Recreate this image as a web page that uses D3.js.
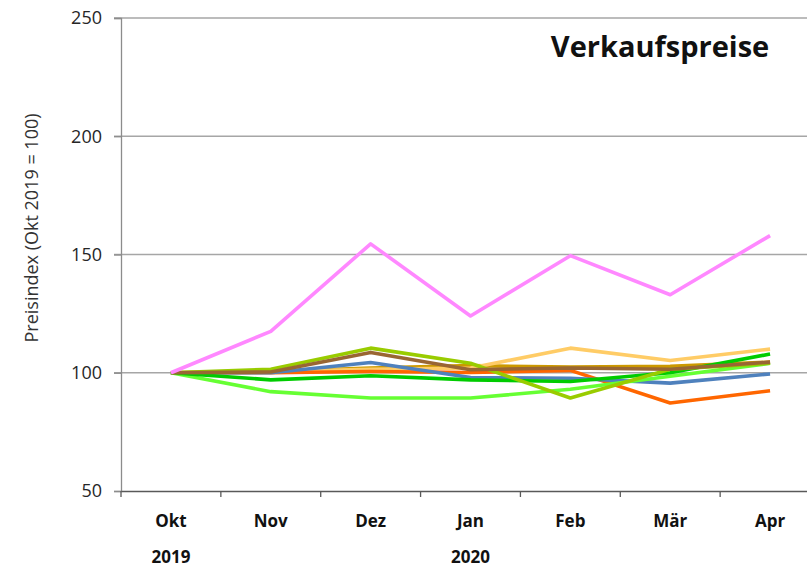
<!DOCTYPE html>
<html>
<head>
<meta charset="utf-8">
<script src="https://cdn.jsdelivr.net/npm/d3@7"></script>
<style>
  body { margin: 0; background: #fff; overflow: hidden; }
  text { font-family: "Open Sans", sans-serif; }
</style>
</head>
<body>
<div class="chart"></div>
<script>
// months shown on the x axis
const months = ['Okt', 'Nov', 'Dez', 'Jan', 'Feb', 'Mär', 'Apr'];
const years = ['2019', '', '', '2020', '', '', ''];
const yTicks = [50, 100, 150, 200, 250];

// price index per series (Okt 2019 = 100)
const pink = [100, 117.5, 154.5, 124, 149.5, 133, 158];
const olive = [100, 101.5, 110.4, 104, 89.3, 101.5, 104];
const brown = [100, 100.3, 108.6, 101.3, 102, 101.5, 104.5];
const golden = [100, 100.5, 102, 103, 102.4, 102.7, 104.5];
const lightOrange = [100, 100.5, 101.5, 102, 110.4, 105.2, 110];
const orange = [100, 100, 100.5, 100.1, 101, 87.2, 92.4];
const blue = [100, 100, 104.3, 98, 97.7, 95.6, 99.5];
const darkGreen = [100, 97, 98.7, 97, 96.3, 100, 107.9];
const lightGreen = [100, 92, 89.3, 89.3, 93, 98.5, 104];

const series = [
  {values: golden, color: '#cc9900'},
  {values: lightOrange, color: '#ffcc66'},
  {values: orange, color: '#ff6600'},
  {values: blue, color: '#4f81bd'},
  {values: lightGreen, color: '#66ff33'},
  {values: darkGreen, color: '#00cc00'},
  {values: olive, color: '#99cc00'},
  {values: brown, color: '#996633'},
  {values: pink, color: '#ff88ff'}
];

const W = 807, H = 569;
const margin = {left: 121, top: 18, bottom: 491, right: 820};

const svg = d3.select('.chart').append('svg')
  .attr('width', W)
  .attr('height', H);

const x = d3.scaleBand()
  .domain(months)
  .range([margin.left, margin.right]);

const y = d3.scaleLinear()
  .domain([50, 250])
  .range([margin.bottom, margin.top]);

// horizontal gridlines
svg.append('g')
  .selectAll('line')
  .data(yTicks.filter(d => d > 50))
  .enter().append('line')
    .attr('x1', margin.left - 7)
    .attr('x2', W)
    .attr('y1', d => y(d))
    .attr('y2', d => y(d))
    .attr('stroke', '#a6a6a6')
    .attr('stroke-width', 1.3);

// y axis
const yAxis = svg.append('g')
  .attr('transform', `translate(${margin.left},0)`)
  .call(d3.axisLeft(y).tickValues(yTicks).tickSize(7).tickPadding(12));
yAxis.select('.domain').attr('stroke', '#8c8c8c').attr('stroke-width', 1.3);
yAxis.selectAll('.tick line').attr('stroke', '#8c8c8c').attr('stroke-width', 1.3);
yAxis.selectAll('.tick text')
  .attr('fill', '#262626')
  .style('font-size', '18px');

// x axis
const xAxis = svg.append('g')
  .attr('transform', `translate(0,${margin.bottom})`)
  .call(d3.axisBottom(x).tickSize(0).tickPadding(24));
xAxis.select('.domain').attr('stroke', '#595959').attr('stroke-width', 1.6);
xAxis.selectAll('.tick text')
  .attr('fill', '#111')
  .style('font-size', '17px')
  .style('font-weight', 'bold');

// tick marks on band edges
svg.append('g')
  .selectAll('line')
  .data(months)
  .enter().append('line')
    .attr('x1', d => x(d))
    .attr('x2', d => x(d))
    .attr('y1', margin.bottom)
    .attr('y2', margin.bottom + 6)
    .attr('stroke', '#595959')
    .attr('stroke-width', 1.3);

// year labels
svg.append('g')
  .selectAll('text')
  .data(months)
  .enter().append('text')
    .attr('x', d => x(d) + x.bandwidth() / 2)
    .attr('y', margin.bottom + 72)
    .attr('text-anchor', 'middle')
    .attr('fill', '#111')
    .style('font-size', '17px')
    .style('font-weight', 'bold')
    .text((d, i) => years[i]);

// lines
const line = d3.line()
  .x((d, i) => x(months[i]) + x.bandwidth() / 2)
  .y(d => y(d));

svg.append('g')
  .selectAll('path')
  .data(series)
  .enter().append('path')
    .attr('d', d => line(d.values))
    .attr('fill', 'none')
    .attr('stroke', d => d.color)
    .attr('stroke-width', 3.6)
    .attr('stroke-linejoin', 'round');

// y axis title
svg.append('text')
  .attr('transform', 'translate(38,228) rotate(-90)')
  .attr('text-anchor', 'middle')
  .attr('fill', '#333')
  .style('font-size', '18px')
  .text('Preisindex (Okt 2019 = 100)');

// chart title
svg.append('text')
  .attr('x', 660)
  .attr('y', 57)
  .attr('text-anchor', 'middle')
  .attr('fill', '#111')
  .style('font-size', '29px')
  .style('font-weight', 'bold')
  .text('Verkaufspreise');
</script>
</body>
</html>
